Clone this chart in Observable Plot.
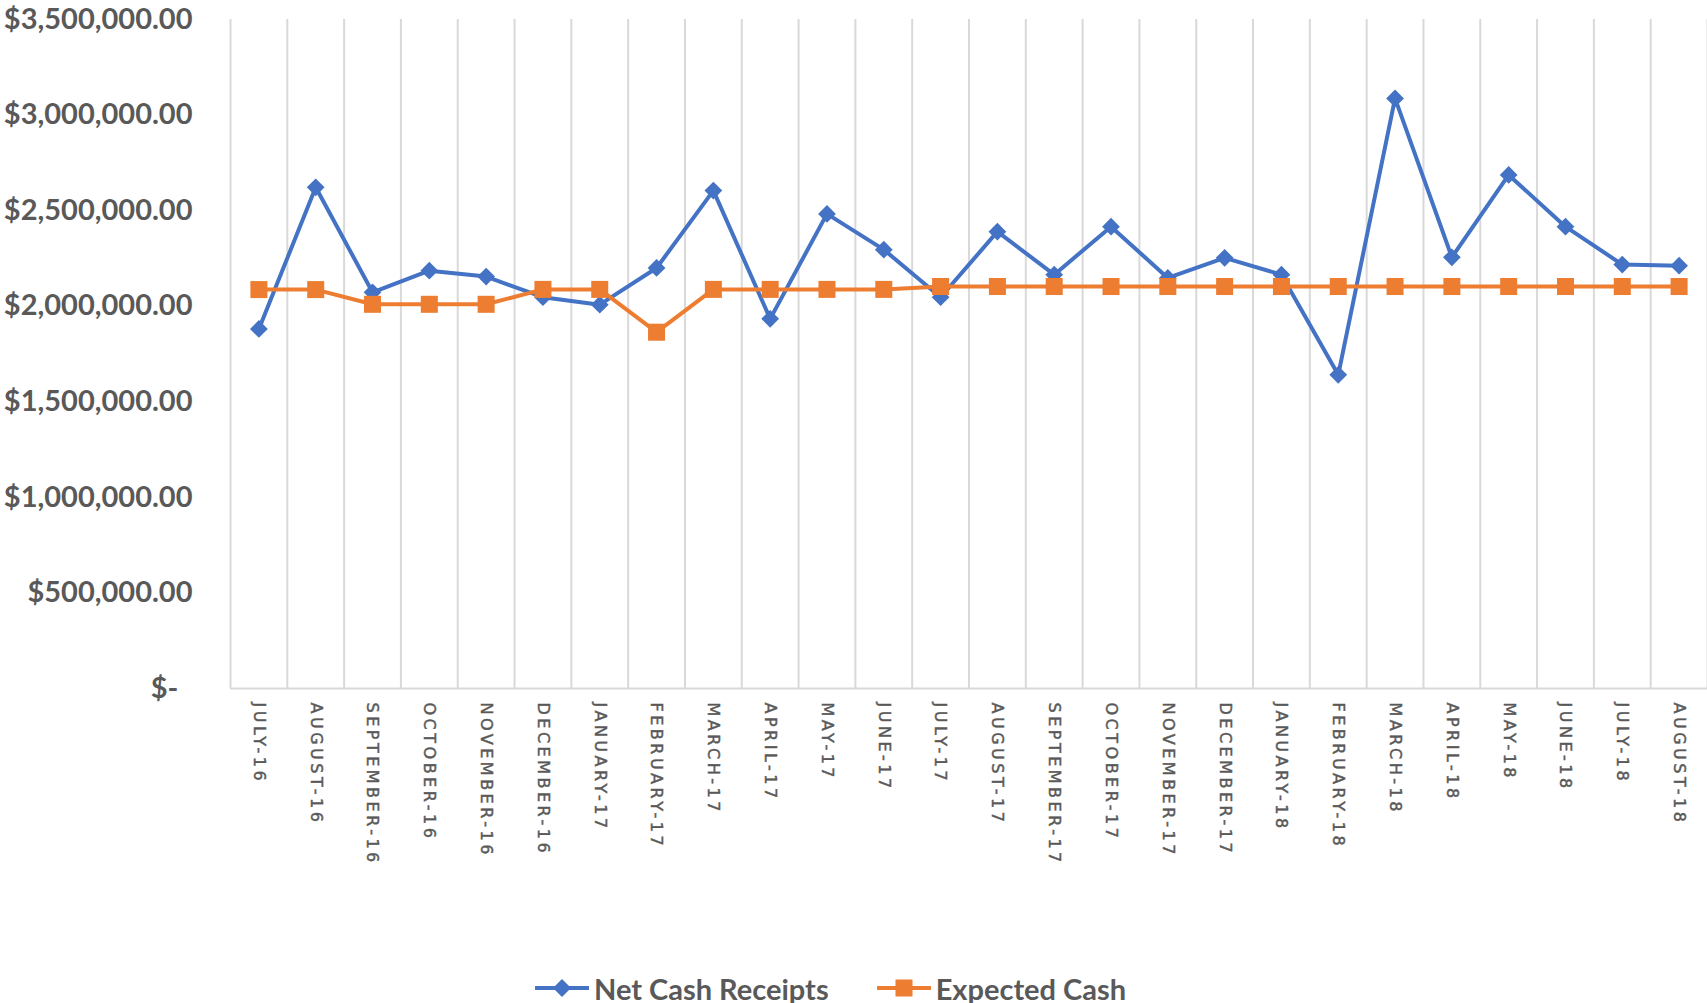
<!DOCTYPE html>
<html>
<head>
<meta charset="utf-8">
<script src="https://cdn.jsdelivr.net/npm/d3@7"></script>
<script src="https://cdn.jsdelivr.net/npm/@observablehq/plot@0.6"></script>
<style>
  html, body { margin: 0; padding: 0; background: #fff; overflow: hidden; }
  #wrap { position: relative; width: 1707px; height: 1003px; }
  g[aria-label="y-axis tick label"] text { font-family: Lato, sans-serif; font-weight: 700; font-size: 29px; fill: #595959; }
  g[aria-label="x-axis tick label"] text { font-family: "DejaVu Sans", sans-serif; font-weight: 400; font-size: 16px; letter-spacing: 3.5px; fill: #595959; stroke: #595959; stroke-width: 0.45px; }
  #legend { position: absolute; top: 968px; left: 535px; height: 40px; display: flex; align-items: center;
            font-family: Lato, sans-serif; font-weight: 700; font-size: 29px; color: #595959; }
  .item { display: flex; align-items: center; }
  .item svg { display: block; margin-right: 5px; }
</style>
</head>
<body>
<div id="wrap">
  <div id="chart"></div>
  <div id="legend"></div>
</div>
<script>
const months = ["JULY-16","AUGUST-16","SEPTEMBER-16","OCTOBER-16","NOVEMBER-16","DECEMBER-16",
  "JANUARY-17","FEBRUARY-17","MARCH-17","APRIL-17","MAY-17","JUNE-17","JULY-17","AUGUST-17",
  "SEPTEMBER-17","OCTOBER-17","NOVEMBER-17","DECEMBER-17","JANUARY-18","FEBRUARY-18","MARCH-18",
  "APRIL-18","MAY-18","JUNE-18","JULY-18","AUGUST-18"];
const netCashReceipts = [1881000, 2622000, 2073000, 2186000, 2155000, 2047000, 2008000, 2200000,
  2605000, 1934000, 2483000, 2296000, 2047000, 2390000, 2165000, 2416000, 2148000, 2253000,
  2165000, 1641000, 3087000, 2256000, 2687000, 2416000, 2218000, 2212000];
const expectedCash = [2087000, 2087000, 2010000, 2010000, 2010000, 2088000, 2088000, 1864000,
  2088000, 2088000, 2088000, 2088000, 2103000, 2103000, 2103000, 2103000, 2103000, 2103000,
  2103000, 2103000, 2103000, 2103000, 2103000, 2103000, 2103000, 2103000];
const yTicks = [0, 500000, 1000000, 1500000, 2000000, 2500000, 3000000, 3500000];
const seriesNames = ["Net Cash Receipts", "Expected Cash"];
const colors = ["#4472C4", "#ED7D31"];

const idx = d3.range(months.length);
const fmt = d3.format(",.2f");
const yFormat = v => v === 0 ? "$-\u00a0\u00a0" : "$" + fmt(v);

const chart = Plot.plot({
  width: 1707, height: 962,
  marginLeft: 230, marginRight: 0, marginTop: 19, marginBottom: 274,
  x: { domain: [0, months.length] },
  y: { domain: [0, 3500000] },
  marks: [
    Plot.ruleX(d3.range(months.length + 1), { stroke: "#d9d9d9", strokeWidth: 2 }),
    Plot.ruleY([0], { stroke: "#d9d9d9", strokeWidth: 2 }),
    Plot.axisY({ ticks: yTicks, tickFormat: yFormat, tickSize: 0, tickPadding: 38, label: null }),
    Plot.axisX({ ticks: idx.map(i => i + 0.5), tickFormat: d => months[Math.floor(d)],
                 tickRotate: 90, tickSize: 0, tickPadding: 14, textAnchor: "start", lineAnchor: "middle", label: null }),
    Plot.line(idx, { x: i => i + 0.5, y: i => netCashReceipts[i], stroke: colors[0], strokeWidth: 4 }),
    Plot.dot(idx, { x: i => i + 0.5, y: i => netCashReceipts[i], symbol: "diamond2", r: 8, fill: colors[0], stroke: "none" }),
    Plot.line(idx, { x: i => i + 0.5, y: i => expectedCash[i], stroke: colors[1], strokeWidth: 4 }),
    Plot.dot(idx, { x: i => i + 0.5, y: i => expectedCash[i], symbol: "square", r: 9.6, fill: colors[1], stroke: "none" })
  ]
});
document.getElementById("chart").appendChild(chart);

const legend = document.getElementById("legend");
const symbols = [
  '<polygon points="18,17 27,8 36,17 27,26" fill="' + colors[0] + '"/>',
  '<rect x="18.5" y="8.5" width="17" height="17" fill="' + colors[1] + '"/>'
];
seriesNames.forEach((name, k) => {
  const it = document.createElement("div");
  it.className = "item";
  if (k > 0) it.style.marginLeft = "48px";
  it.innerHTML = '<svg width="54" height="34"><line x1="1" x2="53" y1="17" y2="17" stroke="' + colors[k] +
    '" stroke-width="4" stroke-linecap="round"/>' + symbols[k] + '</svg><span>' + name + '</span>';
  legend.appendChild(it);
});
</script>
</body>
</html>
